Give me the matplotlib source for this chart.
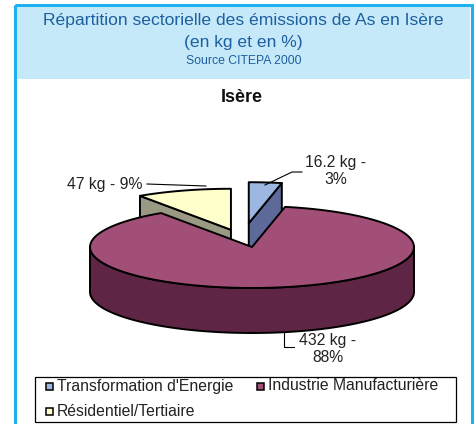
import numpy as np
import matplotlib.pyplot as plt
from matplotlib.patches import Polygon, Rectangle

plt.rcParams['font.family'] = ['Liberation Sans', 'DejaVu Sans']

sectors = ["Transformation d'Energie", "Industrie Manufacturière", "Résidentiel/Tertiaire"]
emissions_kg = [16.2, 432, 47]
percent_labels = [3, 88, 9]

top_colors = ["#9cb8e2", "#a24f78", "#ffffcc"]
side_colors = ["#5d6a9a", "#5e2644", "#9a9a84"]
# slice offsets in units of (a, b), pushed towards the back
explode = [(-0.02, 0.58), (0.0, 0.0), (-0.13, 0.42)]

W, H = 476, 424
fig = plt.figure(figsize=(W / 100, H / 100), dpi=100)
ax = fig.add_axes([0, 0, 1, 1])
ax.set_xlim(0, W)
ax.set_ylim(H, 0)
ax.axis("off")

# frame and title band
ax.add_patch(Rectangle((16, 6), 454, 73, facecolor="#c6e9f9", edgecolor="none", zorder=0))
ax.add_patch(Rectangle((14.5, 4.5), 457, 430, facecolor="none", edgecolor="#1db2ef", lw=2.2, zorder=10))
title_col = "#1d5f9f"
ax.text(243, 20, "Répartition sectorielle des émissions de As en Isère", ha="center", va="center",
        fontsize=12.6, color=title_col)
ax.text(243, 43, "(en kg et en %)", ha="center", va="center", fontsize=12.6, color=title_col)
ax.text(244, 61, "Source CITEPA 2000", ha="center", va="center", fontsize=8.8, color=title_col)
ax.text(242, 98, "Isère", ha="center", va="center", fontsize=13, fontweight="bold", color="#111111")

# 3D pie
cx, cy, a, b, depth = 252, 247, 162, 41, 45
total = sum(emissions_kg)
bounds = []
start = 90.0
for v in emissions_kg:
    end = start - v / total * 360
    bounds.append((start, end))
    start = end


def pt(t, ox, oy, dz=0.0):
    r = np.radians(t)
    return cx + ox + a * np.cos(r), cy + oy - b * np.sin(r) + dz


def arc(t0, t1, ox, oy, dz=0.0, n=120):
    ts = np.linspace(t0, t1, n)
    return [pt(t, ox, oy, dz) for t in ts]


edge = dict(edgecolor="black", lw=1.4, joinstyle="round")
order = [0, 2, 1]
for i in order:
    s, e = bounds[i]
    ox, oy = explode[i][0] * a, -explode[i][1] * b
    ctr = (cx + ox, cy + oy)
    # radial cut faces that face the viewer
    for t, vis in ((e, np.cos(np.radians(e)) > 1e-6), (s, np.cos(np.radians(s)) < -1e-6)):
        if vis:
            p = pt(t, ox, oy)
            face = [ctr, p, (p[0], p[1] + depth), (ctr[0], ctr[1] + depth)]
            ax.add_patch(Polygon(face, closed=True, facecolor=side_colors[i], zorder=2, **edge))
    # outer wall on the front half
    lo, hi = e, s
    for k in range(-2, 2):
        f0, f1 = 180 + 360 * k, 360 + 360 * k
        w0, w1 = max(lo, f0), min(hi, f1)
        if w1 > w0:
            wall = arc(w0, w1, ox, oy) + arc(w1, w0, ox, oy, depth)
            ax.add_patch(Polygon(wall, closed=True, facecolor=side_colors[i], zorder=2, **edge))
    top = [ctr] + arc(s, e, ox, oy)
    ax.add_patch(Polygon(top, closed=True, facecolor=top_colors[i], zorder=3, **edge))
    # later slices sit in front
    for p in ax.patches[-3:]:
        p.set_zorder(p.get_zorder() + 10 * order.index(i))

# value labels with leader lines
lab_kw = dict(ha="center", va="center", fontsize=11.3, color="#222222", linespacing=1.2, zorder=40)
ax.text(336, 171, f"{emissions_kg[0]:g} kg -\n{percent_labels[0]}%", **lab_kw)
ax.plot([265, 292, 302], [185, 172, 172], color="black", lw=0.8, zorder=40)
ax.text(105, 184, f"{emissions_kg[2]:g} kg - {percent_labels[2]}%", **lab_kw)
ax.plot([147, 206], [184, 186], color="black", lw=0.8, zorder=40)
ax.text(328, 349, f"{emissions_kg[1]:g} kg -\n{percent_labels[1]}%", **lab_kw)
ax.plot([284, 284, 294], [333, 347, 347], color="black", lw=0.8, zorder=40)

# legend
ax.add_patch(Rectangle((35, 376.5), 421, 45.5, facecolor="white", edgecolor="black", lw=0.9, zorder=30))
legend_pos = [(46, 386), (257, 386), (46, 411)]
for (lx, ly), name, col in zip(legend_pos, sectors, top_colors):
    ax.add_patch(Rectangle((lx, ly - 3.5), 7, 7, facecolor=col, edgecolor="black", lw=1.1, zorder=31))
    ax.text(lx + 11, ly, name, ha="left", va="center", fontsize=11.3, color="#222222", zorder=31)

fig.savefig("out.png", dpi=100)
